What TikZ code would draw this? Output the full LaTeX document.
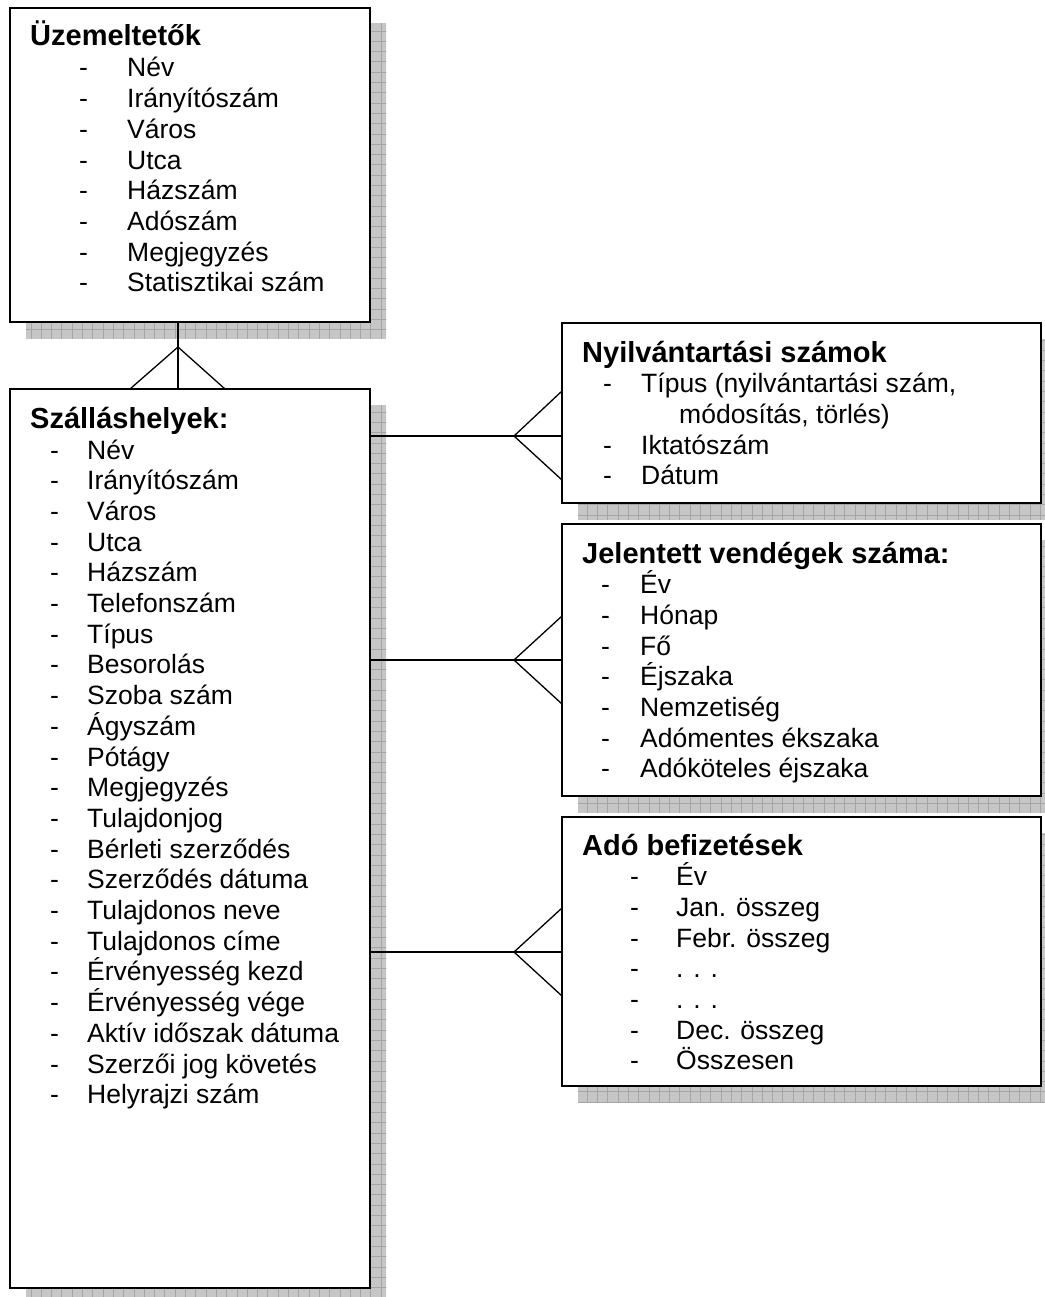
\documentclass[tikz,border=0pt]{standalone}
\usepackage{fontspec}
\setmainfont{Liberation Sans}
\usetikzlibrary{backgrounds}
\newcommand\shadowof[1]{%
  \begin{scope}
    \clip ([shift={(16,16)}]#1.north west) rectangle ([shift={(16,16)}]#1.south east);
    \fill[shfill] (0,0) rectangle (1060,1310);
    \draw[shgrid] (0,0) grid (1060,1310);
  \end{scope}}
\begin{document}
\begin{tikzpicture}[x=1pt,y=-1pt]
\tikzset{
 box/.style={draw=black, line width=1.6pt, fill=white, inner sep=0pt, outer sep=0pt, rectangle},
 ttl/.style={anchor=base west, inner sep=0pt, font=\fontsize{29}{34}\selectfont\bfseries},
 itm/.style={anchor=base west, inner sep=0pt, font=\fontsize{26.5}{30.7}\selectfont},
 conn/.style={line width=1.3pt},
 shfill/.style={fill={rgb,255:red,198;green,198;blue,198}},
 shgrid/.style={draw={rgb,255:red,165;green,165;blue,165}, line width=0.7pt, step=10.3pt},
}
\useasboundingbox (0,0) rectangle (1044,1297);
\clip (0,0) rectangle (1044,1297);

% boxes
\node[box, minimum width=360pt, minimum height=314pt] (b1) at (190,165) {};
\node[box, minimum width=360pt, minimum height=899pt] (b2) at (190,838.5) {};
\node[box, minimum width=479pt, minimum height=180pt] (b3) at (801.5,413) {};
\node[box, minimum width=479pt, minimum height=272pt] (b4) at (801.5,660) {};
\node[box, minimum width=479pt, minimum height=269pt] (b5) at (801.5,951.5) {};

\begin{scope}[on background layer]
  \shadowof{b1}
  \shadowof{b2}
  \shadowof{b3}
  \shadowof{b4}
  \shadowof{b5}
\end{scope}

% box 1
\node[ttl] (b1h) at (30,46) {Üzemeltetők};
\foreach \t [count=\i from 0] in {Név,Irányítószám,Város,Utca,Házszám,Adószám,Megjegyzés,Statisztikai szám}{
  \node[itm] (b1d\i) at (79,{77+30.7*\i}) {-};
  \node[itm] (b1t\i) at (127,{77+30.7*\i}) {\t};
}

% box 2
\node[ttl] (b2h) at (30,428) {Szálláshelyek:};
\foreach \t [count=\i from 0] in {Név,Irányítószám,Város,Utca,Házszám,Telefonszám,Típus,Besorolás,Szoba szám,Ágyszám,Pótágy,Megjegyzés,Tulajdonjog,Bérleti szerződés,Szerződés dátuma,Tulajdonos neve,Tulajdonos címe,Érvényesség kezd,Érvényesség vége,Aktív időszak dátuma,Szerzői jog követés,Helyrajzi szám}{
  \node[itm] (b2d\i) at (50,{459+30.7*\i}) {-};
  \node[itm] (b2t\i) at (87,{459+30.7*\i}) {\t};
}

% box 3
\node[ttl] (b3h) at (582,362) {Nyilvántartási számok};
\node[itm] (b3d0) at (603,392.7) {-};
\node[itm] (b3t0) at (641,392.7) {Típus (nyilvántartási szám,};
\node[itm] (b3t0b) at (679,423.4) {módosítás, törlés)};
\node[itm] (b3d1) at (603,454.1) {-};
\node[itm] (b3t1) at (641,454.1) {Iktatószám};
\node[itm] (b3d2) at (603,484.8) {-};
\node[itm] (b3t2) at (641,484.8) {Dátum};

% box 4
\node[ttl] (b4h) at (582,563) {Jelentett vendégek száma:};
\foreach \t [count=\i from 0] in {Év,Hónap,Fő,Éjszaka,Nemzetiség,Adómentes ékszaka,Adóköteles éjszaka}{
  \node[itm] (b4d\i) at (601,{593.7+30.7*\i}) {-};
  \node[itm] (b4t\i) at (640,{593.7+30.7*\i}) {\t};
}

% box 5
\node[ttl] (b5h) at (582,855) {Adó befizetések};
\foreach \t [count=\i from 0] in {Év,Jan. összeg,Febr. összeg,. . .,. . .,Dec. összeg,Összesen}{
  \node[itm] (b5d\i) at (630,{885.7+30.7*\i}) {-};
  \node[itm] (b5t\i) at (676,{885.7+30.7*\i}) {\t};
}

% connectors
\coordinate (a0) at (178,347);
\coordinate (f0l) at (130,389);
\coordinate (f0r) at (225,389);
\draw[conn] (b1.south -| a0) -- (b2.north -| a0);
\draw[conn] (b2.north -| f0l) -- (a0) -- (b2.north -| f0r);

\coordinate (a1) at (514,436);
\coordinate (u1) at (0,391);
\coordinate (d1) at (0,480);
\draw[conn] (b2.east |- a1) -- (b3.west |- a1);
\draw[conn] (b3.west |- u1) -- (a1) -- (b3.west |- d1);

\coordinate (a2) at (514,660);
\coordinate (u2) at (0,616);
\coordinate (d2) at (0,704);
\draw[conn] (b2.east |- a2) -- (b4.west |- a2);
\draw[conn] (b4.west |- u2) -- (a2) -- (b4.west |- d2);

\coordinate (a3) at (514,952);
\coordinate (u3) at (0,908);
\coordinate (d3) at (0,996);
\draw[conn] (b2.east |- a3) -- (b5.west |- a3);
\draw[conn] (b5.west |- u3) -- (a3) -- (b5.west |- d3);
\end{tikzpicture}
\end{document}
